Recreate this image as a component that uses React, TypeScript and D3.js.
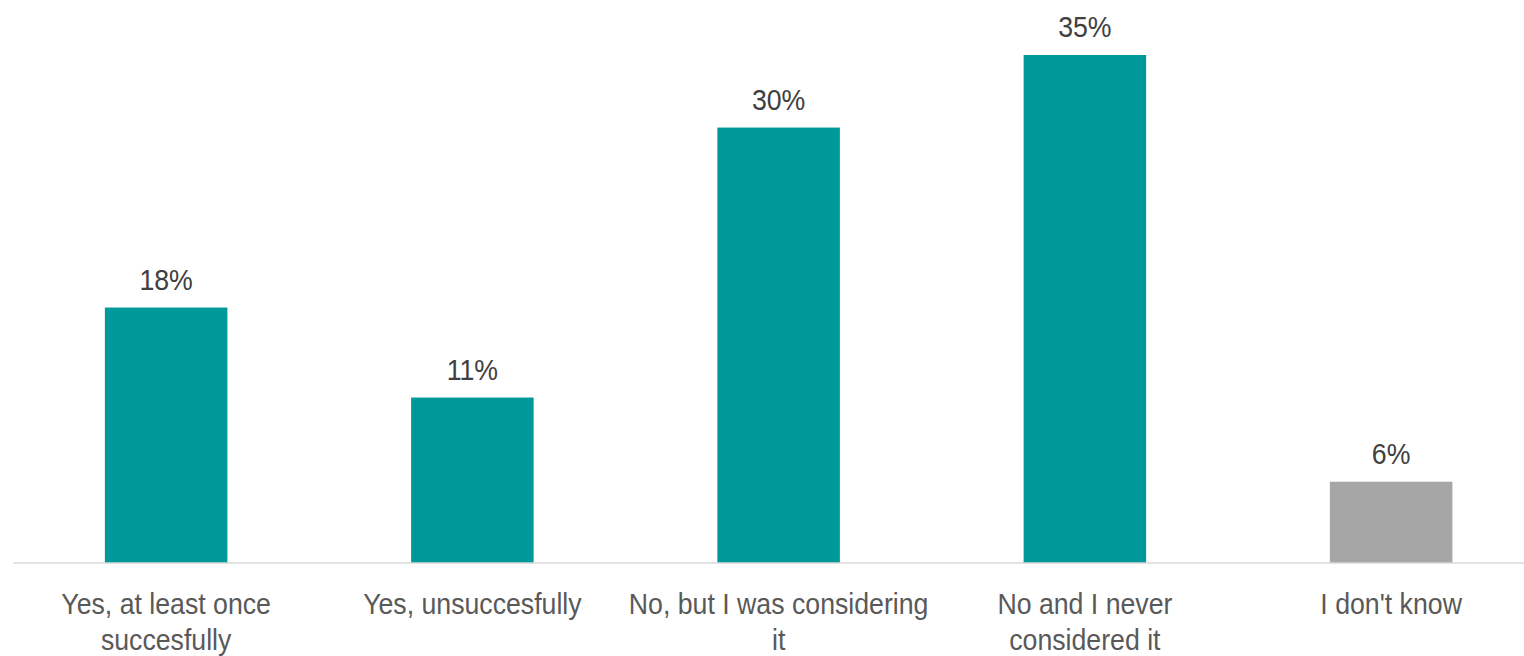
import React from "react";
import * as d3 from "d3";

const categories = [
  "Yes, at least once\nsuccesfully",
  "Yes, unsuccesfully",
  "No, but I was considering\nit",
  "No and I never\nconsidered it",
  "I don't know",
];
const values = [17.6, 11.4, 30.0, 35.0, 5.6];
const colors = ["#009999", "#009999", "#009999", "#009999", "#A6A6A6"];

const W = 1524;
const H = 656;
const FONT = "'Liberation Sans Narrow', 'Arial Narrow', 'Liberation Sans', Arial, sans-serif";
const SX = 0.89;

export default function App() {
  const x = d3
    .scaleBand<string>()
    .domain(categories)
    .range([13, 13 + 5 * 306.25])
    .paddingInner(0.6)
    .paddingOuter(0.3);
  const y = d3.scaleLinear().domain([0, 35]).range([563, 55]);
  const cx = (c: string) => (x(c) as number) + x.bandwidth() / 2;

  return (
    <svg
      width={W}
      height={H}
      style={{ position: "absolute", left: 0, top: 0, background: "#fff" }}
      fontFamily={FONT}
    >
      {categories.map((c, i) => (
        <rect
          key={c}
          x={x(c)}
          y={y(values[i])}
          width={x.bandwidth()}
          height={y(0) - y(values[i])}
          fill={colors[i]}
        />
      ))}
      <line x1={13} x2={W} y1={y(0)} y2={y(0)} stroke="#D9D9D9" strokeWidth={1.5} />
      {categories.map((c, i) => (
        <text
          key={"v" + c}
          transform={`translate(${cx(c)},${y(values[i]) - 18}) scale(${SX},1)`}
          textAnchor="middle"
          fontSize={30}
          fill="#404040"
        >
          {Math.round(values[i]) + "%"}
        </text>
      ))}
      {categories.map((c) => (
        <text
          key={"c" + c}
          transform={`translate(${cx(c)},614) scale(${SX},1)`}
          textAnchor="middle"
          fontSize={30}
          fill="#595959"
        >
          {c.split("\n").map((line, j) => (
            <tspan key={j} x={0} y={j * 36}>
              {line}
            </tspan>
          ))}
        </text>
      ))}
    </svg>
  );
}
